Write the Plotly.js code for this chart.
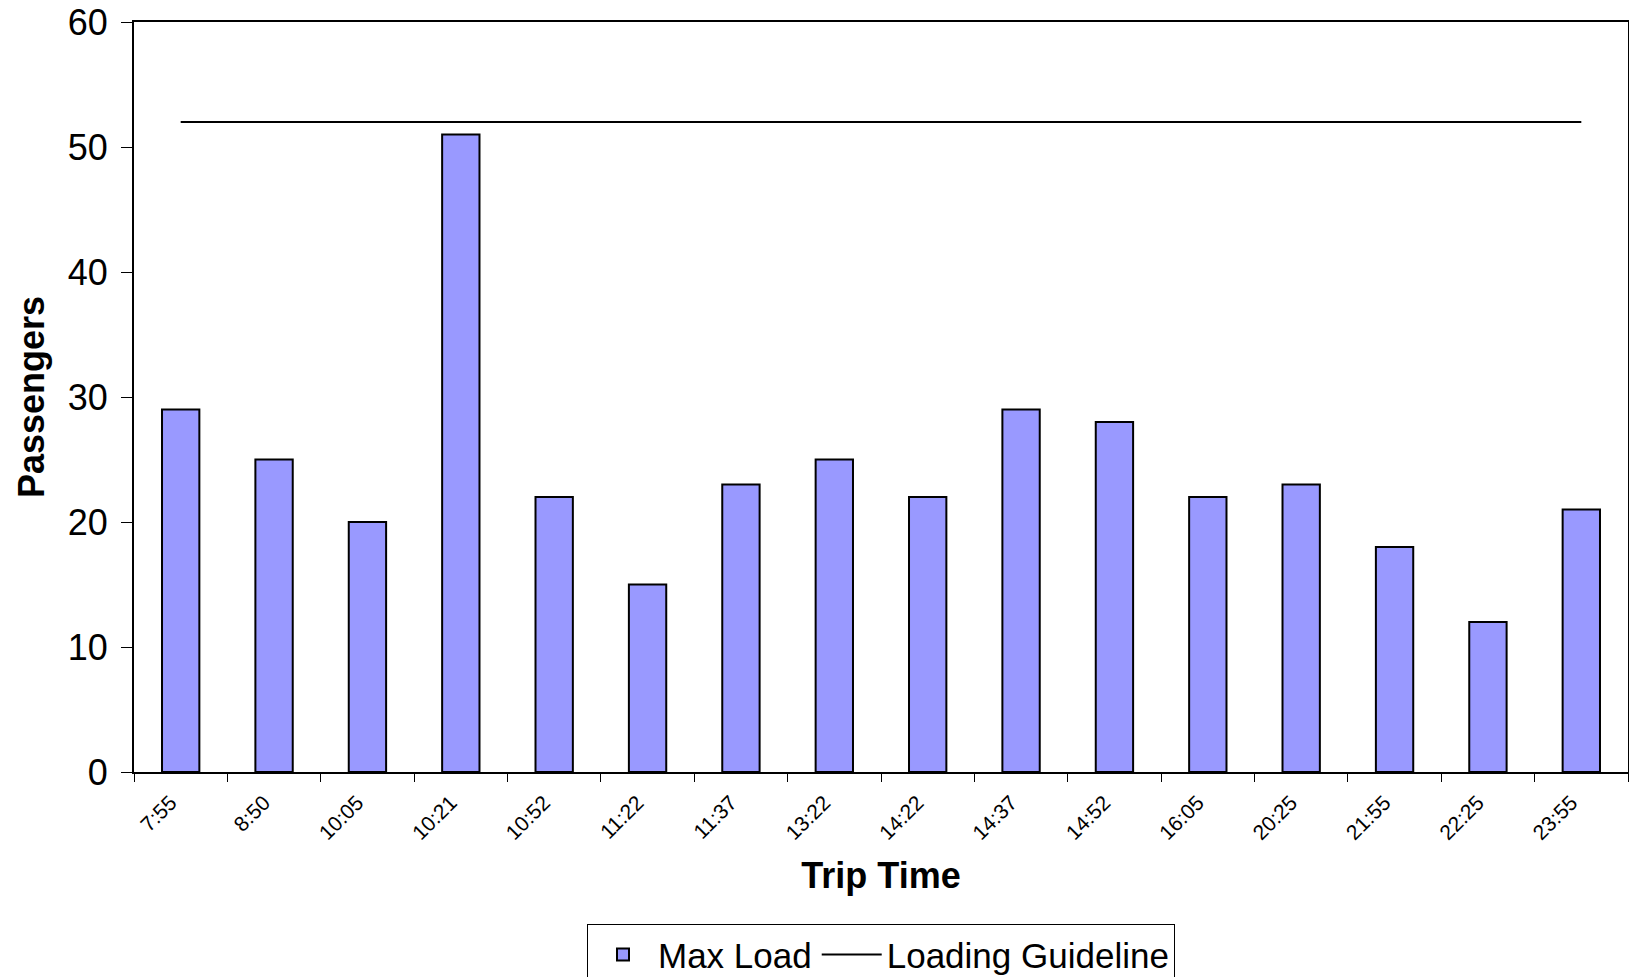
<!DOCTYPE html>
<html>
<head>
<meta charset="utf-8">
<script src="https://cdn.plot.ly/plotly-3.0.1.min.js"></script>
<style>html,body{margin:0;padding:0;background:#fff;overflow:hidden;}#chart{width:1629px;height:977px;}</style>
</head>
<body>
<div id="chart"></div>
<script>
var tripTimes = ["7:55","8:50","10:05","10:21","10:52","11:22","11:37","13:22","14:22","14:37","14:52","16:05","20:25","21:55","22:25","23:55"];
var maxLoad = [29,25,20,51,22,15,23,25,22,29,28,22,23,18,12,21];
var loadingGuideline = [52,52,52,52,52,52,52,52,52,52,52,52,52,52,52,52];

var fontFam = "Liberation Sans, Arial, sans-serif";

var traces = [
  {
    type: "bar",
    name: "Max Load",
    x: tripTimes,
    y: maxLoad,
    marker: {color: "#9999ff", line: {color: "#000000", width: 2}},
    hoverinfo: "x+y"
  },
  {
    type: "scatter",
    mode: "lines",
    name: "Loading Guideline",
    x: tripTimes,
    y: loadingGuideline,
    line: {color: "#000000", width: 2}
  }
];

var layout = {
  width: 1629,
  height: 977,
  margin: {l: 134, r: 1, t: 22, b: 205},
  paper_bgcolor: "#ffffff",
  plot_bgcolor: "#ffffff",
  bargap: 0.6,
  showlegend: true,
  font: {family: fontFam, color: "#000000", size: 36},
  xaxis: {
    type: "category",
    automargin: false,
    tickson: "boundaries",
    ticks: "outside",
    ticklen: 8,
    tickwidth: 1,
    tickcolor: "#000000",
    tickangle: -45,
    ticklabelstandoff: 8,
    ticklabelshift: -10,
    tickfont: {size: 21, family: fontFam, color: "#000000"},
    showline: true,
    linecolor: "#000000",
    linewidth: 2,
    mirror: true,
    showgrid: false,
    zeroline: false,
    title: {text: "<b>Trip Time</b>", font: {size: 36, family: fontFam}, standoff: 20}
  },
  yaxis: {
    range: [0, 60],
    dtick: 10,
    automargin: false,
    ticks: "outside",
    ticklen: 11,
    tickwidth: 1,
    tickcolor: "#000000",
    ticklabelstandoff: 6,
    tickfont: {size: 36, family: fontFam, color: "#000000"},
    showline: true,
    linecolor: "#000000",
    linewidth: 2,
    mirror: true,
    showgrid: false,
    zeroline: false,
    title: {text: "<b>Passengers</b>", font: {size: 36, family: fontFam}, standoff: 12}
  },
  legend: {
    orientation: "h",
    x: 0.5,
    xanchor: "center",
    yref: "container",
    y: 0.054,
    yanchor: "top",
    bordercolor: "#000000",
    borderwidth: 1,
    font: {size: 35, family: fontFam, color: "#000000"},
    itemwidth: 60
  }
};

Plotly.newPlot("chart", traces, layout, {displayModeBar: false, staticPlot: true});
</script>
</body>
</html>
